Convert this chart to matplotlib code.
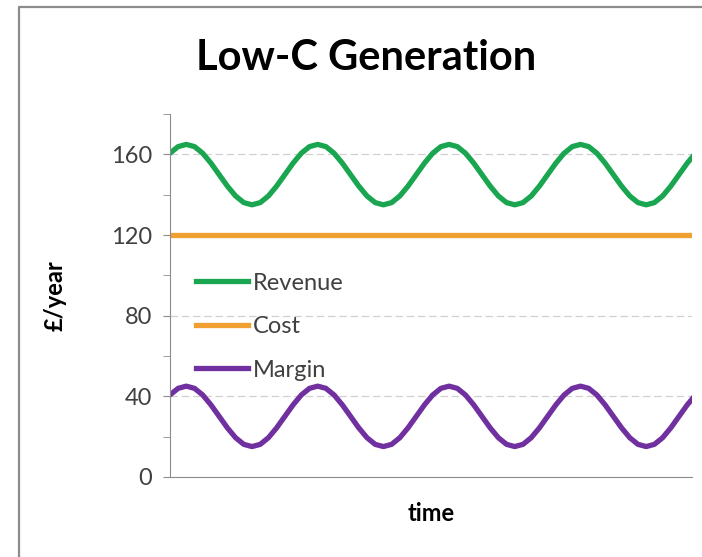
import matplotlib.pyplot as plt
from matplotlib.lines import Line2D

plt.rcParams['font.family'] = ['Lato', 'DejaVu Sans']

# values (one point every 1/16 of a cycle)
revenue = [160.6, 163.9, 165, 163.9, 160.6, 155.7, 150, 144.3, 139.4, 136.1, 135, 136.1, 139.4, 144.3, 150, 155.7,
           160.6, 163.9, 165, 163.9, 160.6, 155.7, 150, 144.3, 139.4, 136.1, 135, 136.1, 139.4, 144.3, 150, 155.7,
           160.6, 163.9, 165, 163.9, 160.6, 155.7, 150, 144.3, 139.4, 136.1, 135, 136.1, 139.4, 144.3, 150, 155.7,
           160.6, 163.9, 165, 163.9, 160.6, 155.7, 150, 144.3, 139.4, 136.1, 135, 136.1, 139.4, 144.3, 150, 155.7,
           160.6]
cost = [120] * 65
margin = [40.6, 43.9, 45, 43.9, 40.6, 35.7, 30, 24.3, 19.4, 16.1, 15, 16.1, 19.4, 24.3, 30, 35.7,
          40.6, 43.9, 45, 43.9, 40.6, 35.7, 30, 24.3, 19.4, 16.1, 15, 16.1, 19.4, 24.3, 30, 35.7,
          40.6, 43.9, 45, 43.9, 40.6, 35.7, 30, 24.3, 19.4, 16.1, 15, 16.1, 19.4, 24.3, 30, 35.7,
          40.6, 43.9, 45, 43.9, 40.6, 35.7, 30, 24.3, 19.4, 16.1, 15, 16.1, 19.4, 24.3, 30, 35.7,
          40.6]
t = list(range(len(revenue)))
yticks = [0, 40, 80, 120, 160]

fig = plt.figure(figsize=(7.02, 5.57), dpi=100)
ax = fig.add_axes([0.242, 0.144, 0.744, 0.651])

# grey frame edge on the left and top only (the rest is cropped off)
fx, fy = 18.5 / 702, 1 - 6.5 / 557
fig.lines.append(Line2D([fx, fx, 1], [0, fy, fy], transform=fig.transFigure,
                        color='#8c8c8c', lw=1.6))

ax.plot(t, revenue, color='#1aa550', lw=3.8, label='Revenue', solid_joinstyle='round')
ax.plot(t, cost, color='#f0a030', lw=3.8, label='Cost')
ax.plot(t, margin, color='#7030a0', lw=3.8, label='Margin', solid_joinstyle='round')

ax.set_xlim(0, 63.6)
ax.set_ylim(0, 180)
ax.set_yticks(yticks)
ax.set_yticks(range(20, 181, 40), minor=True)
ax.set_xticks([])
ax.tick_params(axis='y', which='both', direction='out', length=5, color='#8c8c8c',
               labelsize=17, labelcolor='#404040', pad=8)
for y in yticks[1:]:
    ax.axhline(y, color='#d0d0d0', lw=0.9, ls=(0, (6, 3)), zorder=0)

for s in ['top', 'right']:
    ax.spines[s].set_visible(False)
ax.spines['left'].set_color('#8c8c8c')
ax.spines['bottom'].set_color('#8c8c8c')

ax.set_ylabel('£/year', fontsize=17, fontweight='bold', labelpad=32)
ax.set_xlabel('time', fontsize=17, fontweight='bold', labelpad=18)
fig.text(0.521, 0.895, 'Low-C Generation', ha='center', va='center', fontsize=30, fontweight='bold')

ax.legend(loc='upper left', bbox_to_anchor=(0.05, 0.563), frameon=False, fontsize=17,
          handlelength=2.2, handletextpad=0.2, labelspacing=0.95, borderpad=0, borderaxespad=0,
          labelcolor='#404040')

fig.savefig('out.png', dpi=100)
